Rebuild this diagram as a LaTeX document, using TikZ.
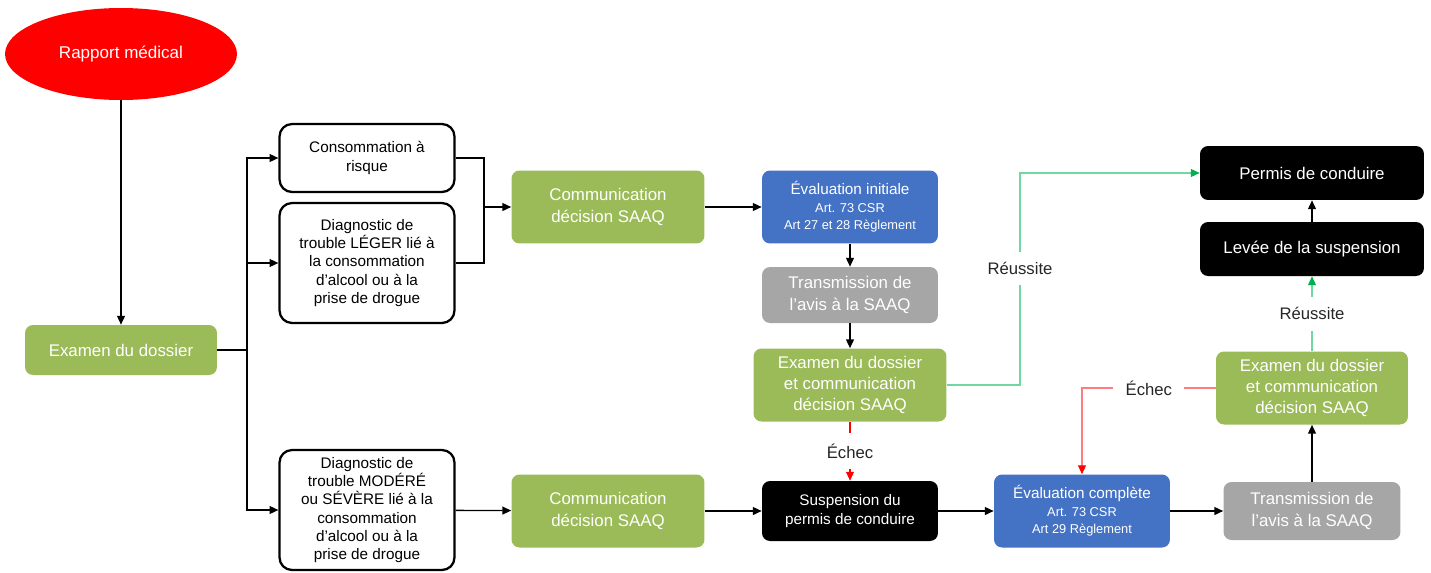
\documentclass[tikz,border=0pt]{standalone}
\usepackage{fontspec}
\setmainfont{Liberation Sans}
\usetikzlibrary{shapes.geometric,arrows.meta}
\definecolor{boxgreen}{HTML}{9BBB59}
\definecolor{boxblue}{HTML}{4472C4}
\definecolor{boxgray}{HTML}{A6A6A6}
\definecolor{okgreen}{HTML}{70D6A2}
\definecolor{tipgreen}{HTML}{00B050}
\definecolor{failred}{HTML}{FF0000}
\definecolor{softred}{HTML}{FF7C80}
\definecolor{labelgray}{HTML}{262626}
\tikzset{
  fillbox/.style={rounded corners=0.16cm, align=center, inner sep=0pt, text=white,
    font=\fontsize{9.6}{12.2}\selectfont},
  greenbox/.style={fillbox, fill=boxgreen},
  bluebox/.style={fillbox, fill=boxblue, minimum width=3.52cm, minimum height=1.46cm},
  graybox/.style={fillbox, fill=boxgray},
  blackbox/.style={fillbox, fill=black},
  casebox/.style={draw=black, line width=1.3pt, rounded corners=0.25cm, fill=white,
    align=center, inner sep=0pt, minimum width=3.5cm, font=\fontsize{8.7}{10.4}\selectfont},
  conn/.style={line width=0.75pt, -{Triangle[length=5pt,width=4.5pt]}},
  plain/.style={line width=0.75pt},
  okconn/.style={draw=okgreen, line width=0.6pt, -{Triangle[length=5pt,width=4.5pt,color=tipgreen]}},
  failconn/.style={draw=failred, line width=0.6pt, -{Triangle[length=5pt,width=4.5pt]}},
  softconn/.style={draw=softred, line width=0.6pt, -{Triangle[length=5pt,width=4.5pt,color=failred]}},
  outcome/.style={fill=white, text=labelgray, inner xsep=7pt, inner ysep=6pt,
    font=\fontsize{9.5}{11}\selectfont}
}
\newcommand{\artline}[1]{{\fontsize{7.3}{8.6}\selectfont #1}}
\begin{document}
\begin{tikzpicture}[x=0.02cm,y=-0.02cm]
\useasboundingbox (0,0) rectangle (1431,572);
\node[ellipse, fill=failred, text=white, minimum width=4.64cm, minimum height=1.84cm, inner sep=0pt,
  font=\fontsize{9.7}{12}\selectfont] (rapport) at (121,54) {Rapport médical};
\node[greenbox, minimum width=3.84cm, minimum height=1cm] (examen) at (121,350) {Examen du dossier};
\node[casebox, minimum height=1.36cm] (risque) at (367,158) {Consommation à\\risque};
\node[casebox, minimum height=2.4cm] (leger) at (367,263) {Diagnostic de\\trouble LÉGER lié à\\la consommation\\d’alcool ou à la\\prise de drogue};
\node[casebox, minimum height=2.4cm] (modere) at (367,510) {Diagnostic de\\trouble MODÉRÉ\\ou SÉVÈRE lié à la\\consommation\\d’alcool ou à la\\prise de drogue};
\node[greenbox, minimum width=3.86cm, minimum height=1.46cm] (comA) at (608,207) {Communication\\décision SAAQ};
\node[greenbox, minimum width=3.86cm, minimum height=1.46cm] (comB) at (608,511) {Communication\\décision SAAQ};
\node[bluebox, font=\fontsize{8.7}{10}\selectfont] (evalinit) at (850,207) {Évaluation initiale\\\artline{Art. 73 CSR}\\\artline{Art 27 et 28 Règlement}};
\node[graybox, minimum width=3.52cm, minimum height=1.12cm] (transA) at (850,295) {Transmission de\\l’avis à la SAAQ};
\node[greenbox, minimum width=3.86cm, minimum height=1.46cm] (examenB) at (850,385) {Examen du dossier\\et communication\\décision SAAQ};
\node[blackbox, minimum width=3.52cm, minimum height=1.2cm, font=\fontsize{8.7}{10.8}\selectfont] (suspension) at (850,511) {Suspension du\\permis de conduire};
\node[bluebox, font=\fontsize{8.7}{10}\selectfont] (evalcomp) at (1082,511) {Évaluation complète\\\artline{Art. 73 CSR}\\\artline{Art 29 Règlement}};
\node[graybox, minimum width=3.54cm, minimum height=1.16cm] (transB) at (1312,511) {Transmission de\\l’avis à la SAAQ};
\node[greenbox, minimum width=3.84cm, minimum height=1.46cm] (examenC) at (1312,388) {Examen du dossier\\et communication\\décision SAAQ};
\node[blackbox, minimum width=4.48cm, minimum height=1.08cm] (levee) at (1312,249) {Levée de la suspension};
\node[blackbox, minimum width=4.48cm, minimum height=1.08cm] (permis) at (1312,173) {Permis de conduire};
\coordinate (split) at (247,350);
\coordinate (merge) at (484,207);
\coordinate (okbend) at (1020,173);
\coordinate (failbend) at (1082,388);
\draw[conn] (rapport) -- (examen);
\draw[plain] (examen) -- (split);
\draw[conn] (split) |- (risque);
\draw[conn] (split) |- (leger);
\draw[conn] (split) |- (modere);
\draw[plain] (risque.east) -| (merge);
\draw[plain] (leger.east) -| (merge);
\draw[conn] (merge) -- (comA);
\draw[conn] (comA) -- (evalinit);
\draw[conn] (evalinit) -- (transA);
\draw[conn] (transA) -- (examenB);
\draw[okconn] (examenB.east) -| node[outcome, pos=0.775] {Réussite} (okbend) -- (permis.west);
\draw[failconn] (examenB) -- node[outcome] {Échec} (suspension);
\draw[conn] (modere) -- (comB);
\draw[conn] (comB) -- (suspension);
\draw[conn] (suspension) -- (evalcomp);
\draw[conn] (evalcomp) -- (transB);
\draw[conn] (transB) -- (examenC);
\draw[softconn] (examenC.west) -- node[outcome] {Échec} (failbend) -- (evalcomp.north);
\draw[okconn] (examenC) -- node[outcome] {Réussite} (levee);
\draw[conn] (levee) -- (permis);
\end{tikzpicture}
\end{document}
